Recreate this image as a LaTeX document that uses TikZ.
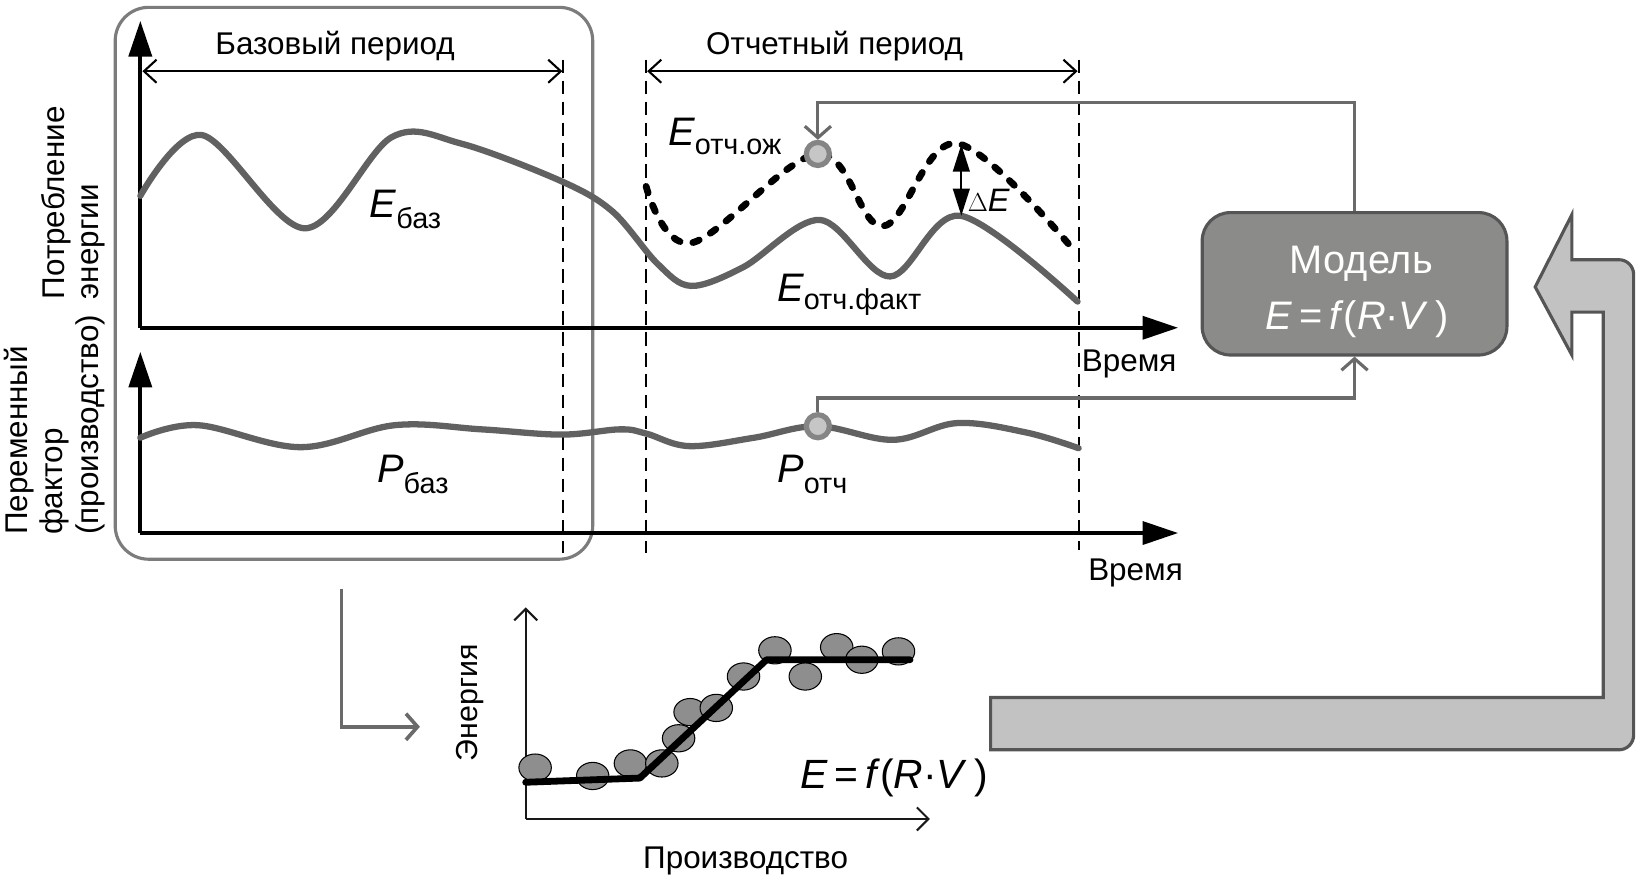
\documentclass[tikz,border=0pt]{standalone}
\usepackage{fontspec}
\setmainfont{Liberation Sans}
\usetikzlibrary{arrows.meta,calc}
\definecolor{ccurve}{HTML}{616161}
\definecolor{cconn}{HTML}{6A6A6A}
\definecolor{cboxedge}{HTML}{7C7C7C}
\definecolor{cmodelfill}{HTML}{8B8B89}
\definecolor{cmodeledge}{HTML}{555555}
\definecolor{cbandfill}{HTML}{C2C2C2}
\definecolor{cdotfill}{HTML}{8E8E8E}
\definecolor{cmarkfill}{HTML}{C6C6C6}
\definecolor{cmarkedge}{HTML}{858585}
\newcommand{\symsub}[3]{{\fontsize{38}{40}\selectfont\itshape #1}\raisebox{-#3pt}{\fontsize{27.5}{30}\selectfont #2}}
\begin{document}
\begin{tikzpicture}[x=1pt,y=-1pt,
  lbl/.style={font=\fontsize{30}{33}\selectfont, inner sep=0pt},
  axisline/.style={line width=3.5pt, -{Triangle[length=34pt,width=22pt]}},
  dimline/.style={line width=2pt, {Straight Barb[length=12pt,width=22pt]}-{Straight Barb[length=12pt,width=22pt]}},
  vdash/.style={line width=2pt, dash pattern=on 13pt off 7pt},
  ecurve/.style={draw=ccurve, line width=6pt, line cap=round},
  edashed/.style={draw=black, line width=6.5pt, line cap=round, dash pattern=on 6.5pt off 12.5pt},
  conn/.style={draw=cconn, line width=3pt, -{Straight Barb[length=11pt,width=25pt]}},
  marker/.style={circle, minimum size=22pt, inner sep=0pt, fill=cmarkfill, draw=cmarkedge, line width=5pt},
  thinax/.style={line width=2pt, draw=black!90, -{Straight Barb[length=11pt,width=22pt]}},
  sdot/.style={fill=cdotfill, draw=black, line width=1pt},
]
\useasboundingbox (0,0) rectangle (1568,839);
\fill[white] (0,0) rectangle (1568,839);

% base period frame
\draw[draw=cboxedge, line width=3pt, rounded corners=32pt] (110,7) rectangle (566,534);

% dashed period lines
\coordinate (d1t) at (538,57); \coordinate (d1b) at (538,528);
\coordinate (d2t) at (617,57); \coordinate (d2b) at (617,528);
\coordinate (d3t) at (1030,57); \coordinate (d3b) at (1030,525);
\draw[vdash] (d1t) -- (d1b);
\draw[vdash] (d2t) -- (d2b);
\draw[vdash] (d3t) -- (d3b);

% dimension lines
\coordinate (b1) at (136,68); \coordinate (b2) at (537,68);
\coordinate (r1) at (618,68); \coordinate (r2) at (1029,68);
\draw[dimline] (b1) -- (b2);
\draw[dimline] (r1) -- (r2);
\node[lbl, anchor=base] (tbase) at (320,52.5) {Базовый период};
\node[lbl, anchor=base] (trep) at (797,52.5) {Отчетный период};

% axes
\coordinate (o1) at (134,313); \coordinate (y1) at (134,20); \coordinate (x1) at (1125,313);
\coordinate (o2) at (134,509); \coordinate (y2) at (134,336); \coordinate (x2) at (1125,509);
\draw[axisline] (o1) -- (y1);
\draw[axisline] (o1) -- (x1);
\draw[axisline] (o2) -- (y2);
\draw[axisline] (o2) -- (x2);
\node[lbl, anchor=base west] (time1) at (1033,355) {Время};
\node[lbl, anchor=base west] (time2) at (1039,554) {Время};

% axis titles
\node[lbl, rotate=90, anchor=west, align=left, font=\fontsize{30}{32}\selectfont] (ytitle1) at (70,286) {Потребление\\энергии};
\node[lbl, rotate=90, anchor=west, align=left, font=\fontsize{30}{34}\selectfont] (ytitle2) at (52,511) {Переменный\\фактор\\(производство)};

% energy curves
\draw[ecurve] plot[smooth, tension=0.55] coordinates {(134,187) (193,129) (291,218) (374,131) (440,137) (536,173) (585,202) (628,252) (660,273) (710,255) (783,210) (850,264) (917,206) (1029,288)};
\draw[edashed] plot[smooth, tension=0.6] coordinates {(617,178) (660,232) (781,147) (843,216) (914,137) (1028,242)};

% production curve
\draw[ecurve] plot[smooth, tension=0.6] coordinates {(134,418) (189,406) (287,427) (377,406) (460,410) (536,415) (592,410) (617,414) (658,426) (720,418) (781,407) (853,420) (914,404) (980,413) (1030,428)};

% markers
\node[marker] (cE) at (781,147) {};
\node[marker] (cP) at (781,407) {};

% delta E
\coordinate (dpk) at (918,138); \coordinate (spk) at (918,206);
\draw[line width=2pt, {Triangle[length=26pt,width=16pt]}-{Triangle[length=26pt,width=16pt]}] (dpk) -- (spk);
\node[inner sep=0pt, anchor=base west, font=\fontsize{31}{33}\selectfont] (dE) at (924,202) {$\Delta$\textit{E}};

% labels
\node[inner sep=0pt, anchor=base west] (lEbaz) at (353,208) {\symsub{E}{баз}{10}};
\node[inner sep=0pt, anchor=base west] (lEoz) at (638,139) {\symsub{E}{отч.ож}{9}};
\node[inner sep=0pt, anchor=base west] (lEfk) at (742,288) {\symsub{E}{отч.факт}{8}};
\node[inner sep=0pt, anchor=base west] (lPbaz) at (360,461) {\symsub{P}{баз}{10}};
\node[inner sep=0pt, anchor=base west] (lPot) at (742,461) {\symsub{P}{отч}{10}};

% model
\node[draw=cmodeledge, fill=cmodelfill, line width=3pt, rounded corners=27pt, minimum width=291pt, minimum height=136pt, inner sep=0pt] (model) at (1293.5,271) {};
\node[inner sep=0pt, anchor=base, text=white, font=\fontsize{38}{40}\selectfont] (mt1) at (1300,261) {Модель};
\node[inner sep=0pt, anchor=base, text=white, font=\fontsize{38}{40}\selectfont] (mt2) at (1296,315) {\textit{E}\,=\,\textit{f}(\textit{R}·\textit{V}\,)};

% connectors
\coordinate (topj) at (781,98);
\coordinate (botj) at (1293.5,380);
\draw[conn] (model.north) |- (topj) -- (cE.north);
\draw[conn] (cP.north) |- (botj) -- (model.south);

% big feedback arrow
\draw[fill=cbandfill, draw=cmodeledge, line width=3pt, line join=miter]
  (946,666) -- (1531,666) -- (1531,298) -- (1501,298) -- (1501,339) -- (1466,274) -- (1501,205) -- (1501,248)
  -- (1546,248) .. controls (1553.7,248) and (1560,254.3) .. (1560,262)
  -- (1560,702) .. controls (1560,709.7) and (1553.7,716) .. (1546,716)
  -- (946,716) -- cycle;

% L arrow
\coordinate (lTop) at (326,562); \coordinate (lEnd) at (401,694);
\draw[conn, line width=3.5pt] (lTop) |- (lEnd);

% small chart
\coordinate (so) at (502,782); \coordinate (sy) at (502,580); \coordinate (sx) at (888,782);
\draw[thinax] (so) -- (sy);
\draw[thinax] (so) -- (sx);
\foreach \px/\py in {511/733, 566/741, 602/729, 632/729, 648/705, 659/680, 684/676, 710/646, 740/621, 769/646, 799/618, 823/630, 858/622}
  \draw[sdot] (\px,\py) ellipse [x radius=15.5pt, y radius=13pt];
\coordinate (f1) at (502,747); \coordinate (f2) at (611,743); \coordinate (f3) at (732,630); \coordinate (f4) at (869,630);
\draw[line width=6.5pt, line cap=round, line join=round] (f1) -- (f2) -- (f3) -- (f4);
\node[lbl, rotate=90, font=\fontsize{29}{32}\selectfont] (sylab) at (449,671) {Энергия};
\node[lbl, anchor=base] (sxlab) at (712,829) {Производство};
\node[inner sep=0pt, anchor=base west, font=\fontsize{39}{40}\selectfont] (sform) at (764,753) {\textit{E}\,=\,\textit{f}(\textit{R}·\textit{V}\,)};
\end{tikzpicture}
\end{document}
